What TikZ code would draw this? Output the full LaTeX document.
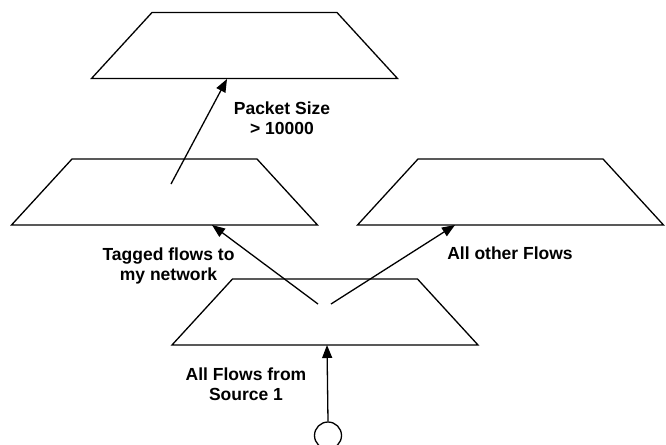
\documentclass[tikz,border=0pt]{standalone}
\usepackage{fontspec}
\setmainfont{Liberation Sans}
\usetikzlibrary{arrows.meta,calc}
\tikzset{
  trapline/.style={draw=black, line width=1.3pt, line join=miter},
  flow/.style={draw=black, line width=1.3pt, -{Triangle[length=13pt,width=10pt]}},
  lbl/.style={font=\bfseries\fontsize{17.5}{20}\selectfont, align=center, inner sep=0pt, anchor=north},
  srcnode/.style={circle, draw=black, line width=1.3pt, minimum size=27pt, inner sep=0pt},
}
\newcommand\mytrap[1]{\draw[trapline] ($(#1)+(-92.5,-33)$) -- ($(#1)+(92.5,-33)$) -- ($(#1)+(153,33)$) -- ($(#1)+(-153,33)$) -- cycle;}
\begin{document}
\begin{tikzpicture}[x=1pt,y=-1pt]
\useasboundingbox (0,0) rectangle (666,444);
% trapezoid centres
\coordinate (T) at (244.5,45.5);
\coordinate (ML) at (164.5,192);
\coordinate (MR) at (510.5,192);
\coordinate (B) at (325,312);
\mytrap{T}
\mytrap{ML}
\mytrap{MR}
\mytrap{B}
% connector end points
\coordinate (bin) at (327,345);
\coordinate (bl) at (318,304);
\coordinate (br) at (331,304);
\coordinate (mlin) at (212,225);
\coordinate (mrin) at (455,225);
\coordinate (mltail) at (171,184);
\coordinate (tin) at (227,79);
\node[srcnode] (src) at (328,435.5) {};
\draw[flow] (src.north) -- (bin);
\draw[flow] (bl) -- (mlin);
\draw[flow] (br) -- (mrin);
\draw[flow] (mltail) -- (tin);
% labels
\node[lbl] (l1) at (282,102) {Packet Size\\> 10000};
\node[lbl] (l2) at (168.5,248) {Tagged flows to\\my network};
\node[lbl] (l3) at (510,247) {All other Flows};
\node[lbl] (l4) at (246,368) {All Flows from\\Source 1};
\end{tikzpicture}
\end{document}
